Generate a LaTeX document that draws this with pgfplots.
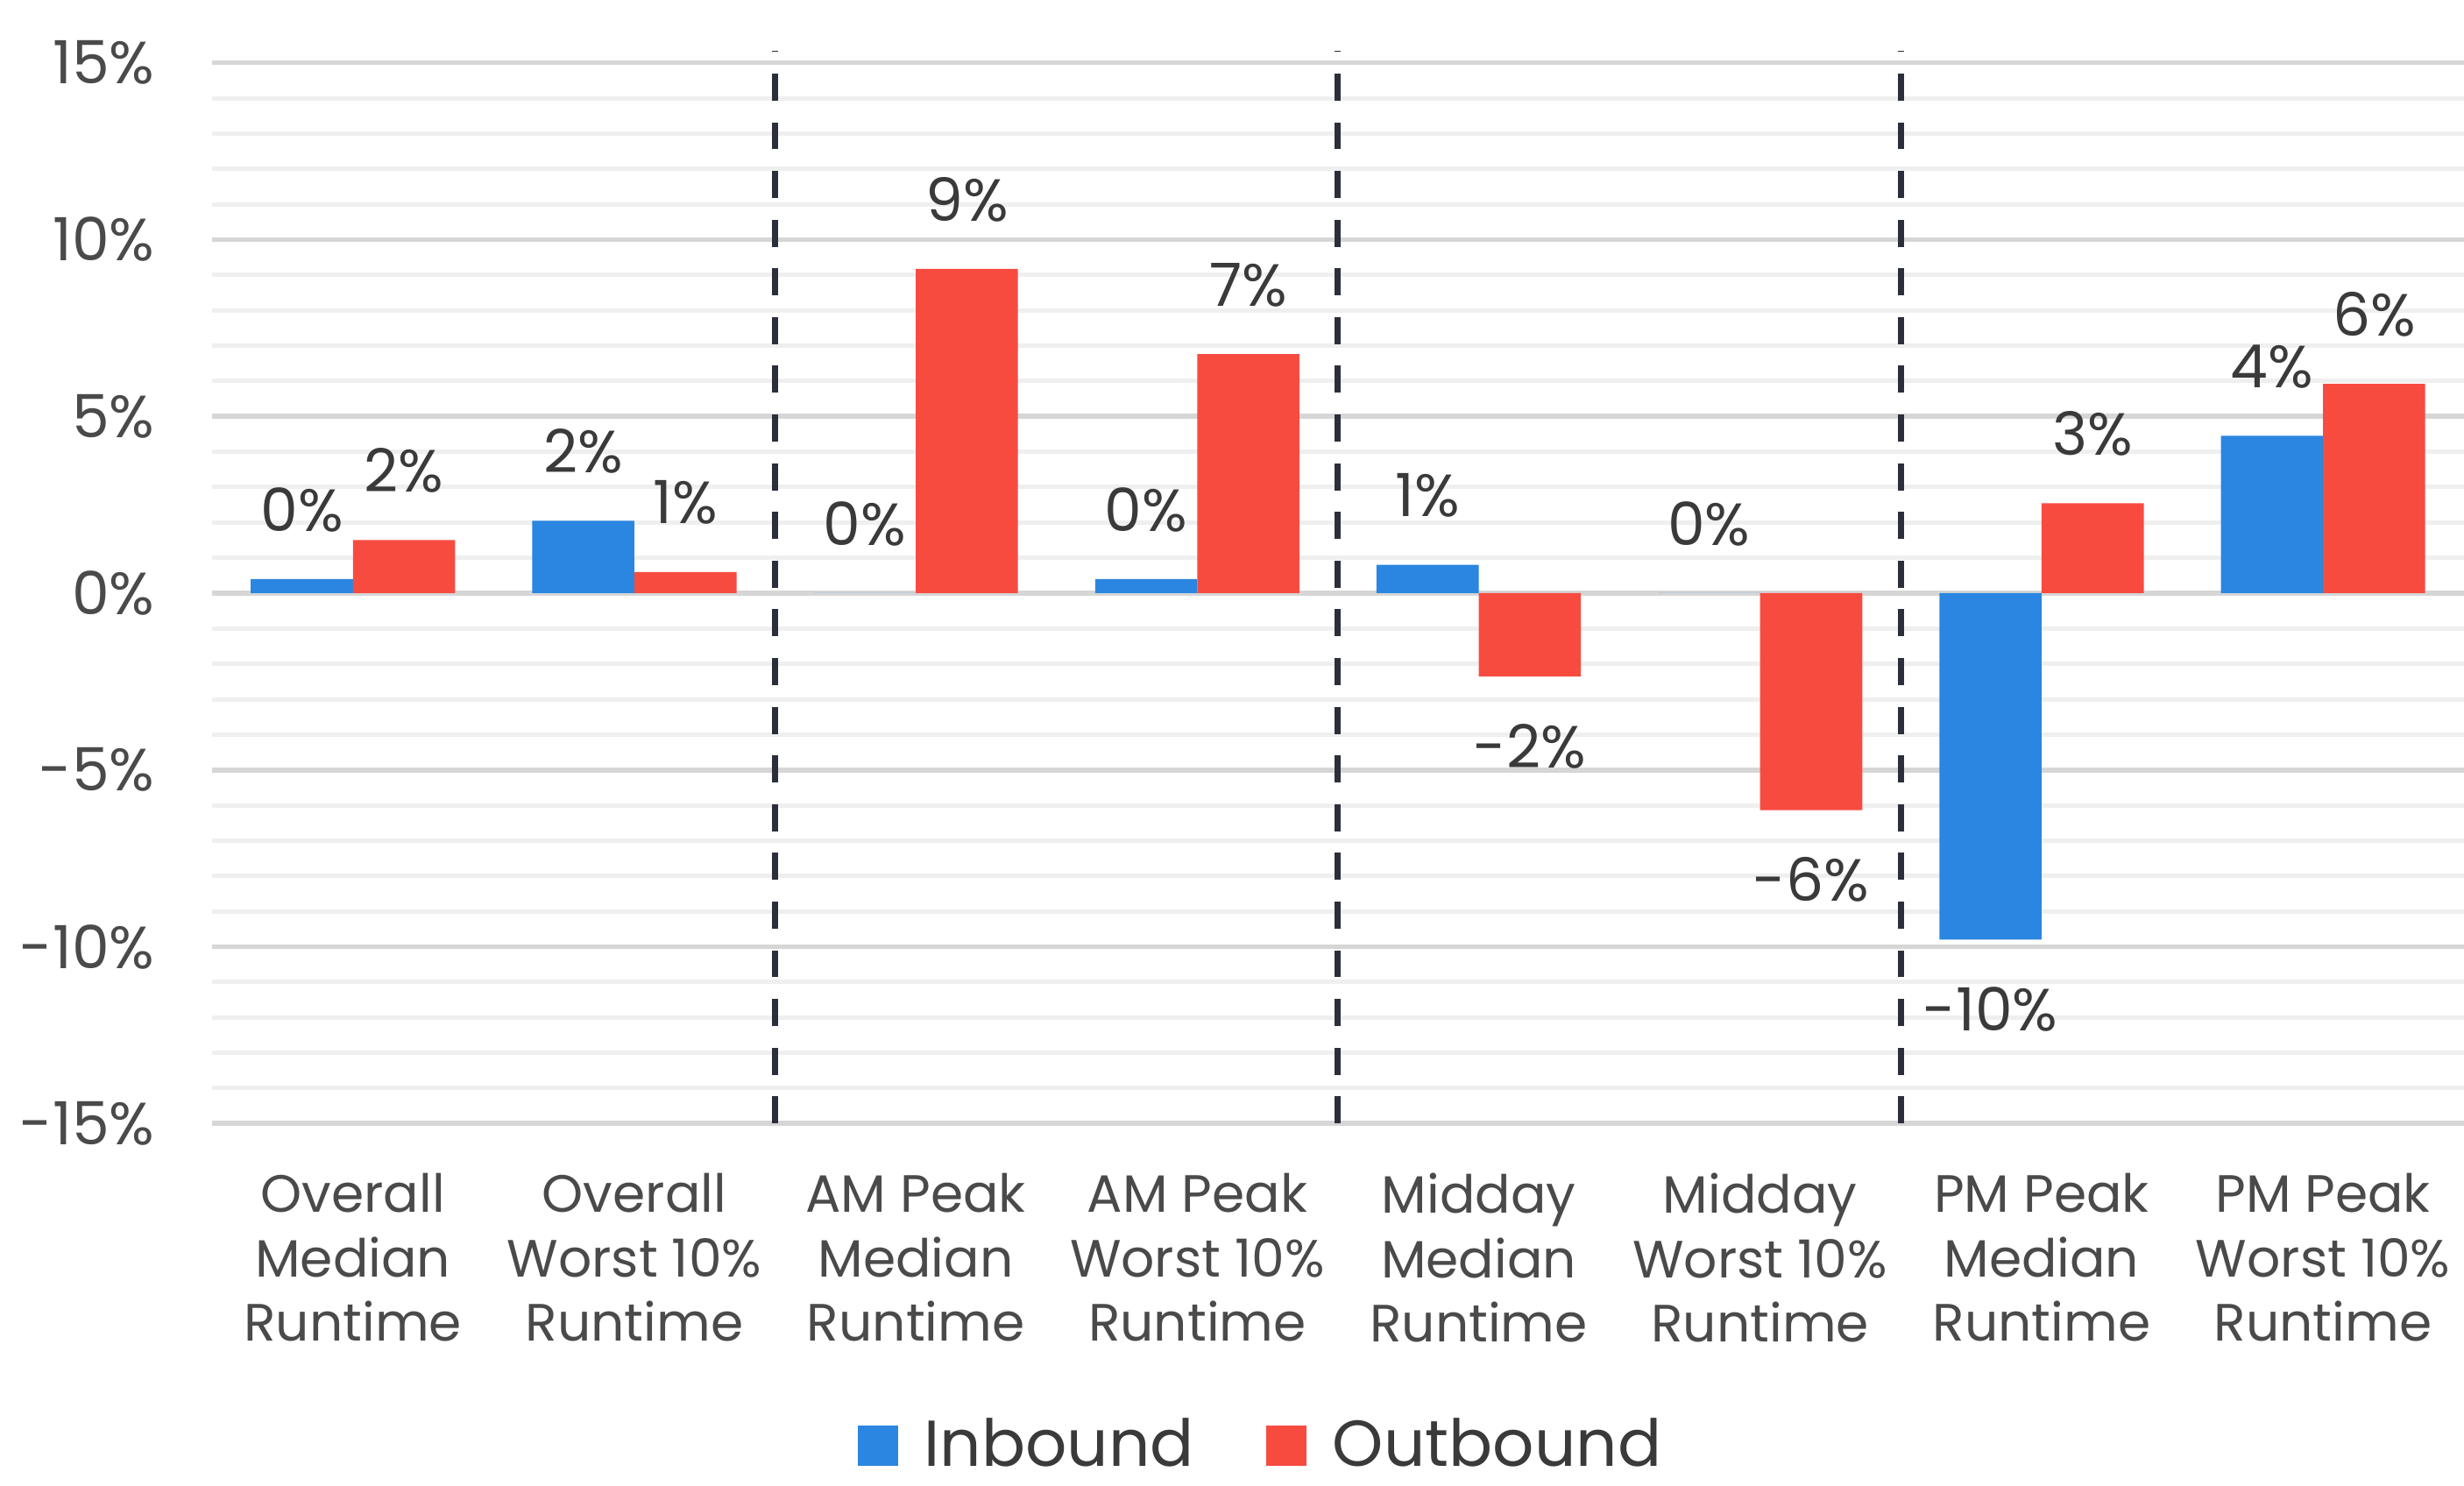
\documentclass[border=0pt]{standalone}
\usepackage{pgfplots}
\pgfplotsset{compat=1.18}
\usepackage{fontspec}
\setmainfont{Poppins}
\definecolor{inb}{HTML}{2A86E0}
\definecolor{outb}{HTML}{F84B40}
\definecolor{majgrid}{HTML}{D6D6D6}
\definecolor{mingrid}{HTML}{EFEFEF}
\definecolor{sepc}{HTML}{2B2F3B}
\definecolor{txt}{HTML}{4A4A4A}
\definecolor{lbl}{HTML}{3A3A3A}
\pgfplotstableread{
x inbound outbound
0 0.4 1.5
1 2.05 0.6
2 0.0 9.17
3 0.4 6.76
4 0.8 -2.36
5 0.0 -6.14
6 -9.8 2.54
7 4.45 5.92
}\datatable
\begin{document}
\begin{tikzpicture}
\path[use as bounding box] (-1.378,-2.349) rectangle (14.622,7.296);
\begin{axis}[
  at={(0,0)}, anchor=south west,
  width=14.62cm, height=6.888cm, scale only axis,
  xmin=-0.5, xmax=7.5, ymin=-15, ymax=15,
  ybar=0pt, bar width=0.363,
  clip=false,
  axis line style={draw=none},
  ytick={-15,-10,...,15}, minor y tick num=4,
  ymajorgrids, yminorgrids,
  major grid style={majgrid, line width=0.9pt},
  minor grid style={mingrid, line width=0.8pt},
  major tick length=0pt, minor tick length=0pt,
  xtick={0,...,7},
  xticklabels={{Overall\\Median\\Runtime},{Overall\\Worst 10\%\\Runtime},{AM Peak\\Median\\Runtime},{AM Peak\\Worst 10\%\\Runtime},{Midday\\Median\\Runtime},{Midday\\Worst 10\%\\Runtime},{PM Peak\\Median\\Runtime},{PM Peak\\Worst 10\%\\Runtime}},
  xticklabel style={align=center, font=\fontsize{9.7}{11.9}\selectfont, text=txt, yshift=-0.2cm},
  /pgf/number format/assume math mode=true,
  yticklabel={\pgfmathprintnumber{\tick}\%},
  yticklabel style={font=\fontsize{11}{13}\selectfont, text=txt, xshift=-0.25cm},
  nodes near coords={\pgfmathprintnumber[fixed,precision=0]{\pgfplotspointmeta}\%},
  nodes near coords style={font=\fontsize{11}{13}\selectfont, text=lbl, inner sep=0.3cm},
  legend style={at={(0.4676,-0.304)}, anchor=center, draw=none, fill=none,
    legend columns=2, font=\fontsize{12}{14}\selectfont, text=lbl,
    /tikz/every even column/.append style={column sep=0.4cm}},
  legend image code/.code={\fill[#1] (0cm,-0.13cm) rectangle (0.26cm,0.13cm); \path (0.36cm,0cm);},
]
\addplot[fill=inb, draw=none] table[x=x, y=inbound] {\datatable};
\addlegendentry{Inbound}
\addplot[fill=outb, draw=none] table[x=x, y=outbound] {\datatable};
\addlegendentry{Outbound}
\draw[sepc, line width=1.15pt, dash pattern=on 5pt off 4pt] (axis cs:1.5,-15) -- (axis cs:1.5,15.35);
\draw[sepc, line width=1.15pt, dash pattern=on 5pt off 4pt] (axis cs:3.5,-15) -- (axis cs:3.5,15.35);
\draw[sepc, line width=1.15pt, dash pattern=on 5pt off 4pt] (axis cs:5.5,-15) -- (axis cs:5.5,15.35);
\end{axis}
\end{tikzpicture}
\end{document}
